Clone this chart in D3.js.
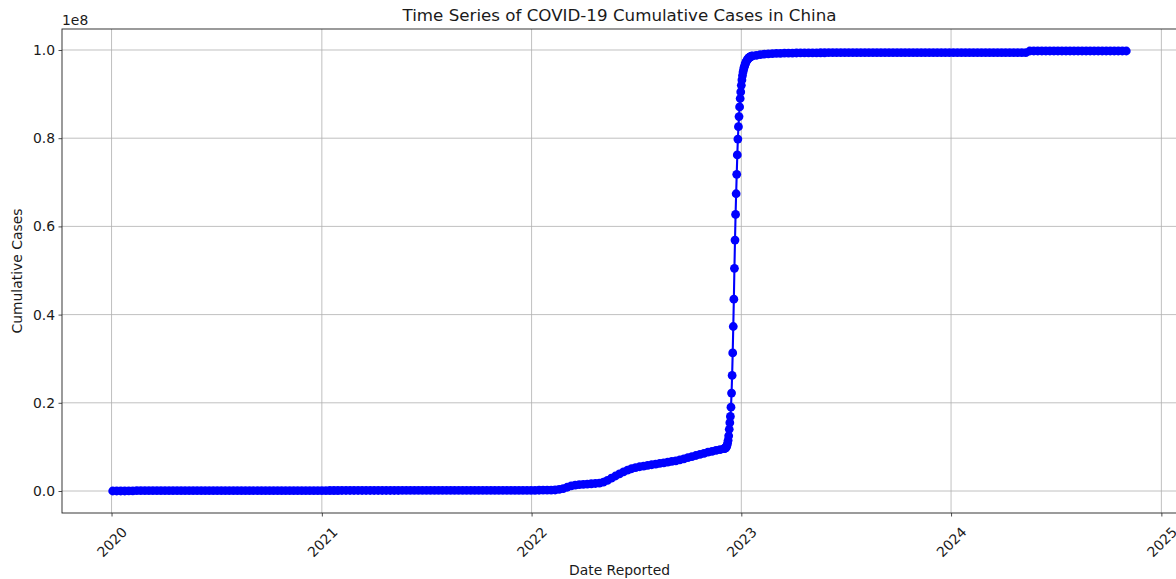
<!DOCTYPE html>
<html>
<head>
<meta charset="utf-8">
<script src="https://cdn.jsdelivr.net/npm/d3@7"></script>
<style>
  html, body { margin: 0; padding: 0; background: #fff; }
  svg { display: block; font-family: "DejaVu Sans", sans-serif; }
</style>
</head>
<body>
<svg id="chart" width="1176" height="579"></svg>
<script>
// Cumulative reported cases, in millions.
// Weekly readings (Fridays) from 2020-01-03 to 2022-12-02.
const weeklyStartA = "2020-01-03";
const cases2020 = [
  0, 0, 0, 0.001, 0.012, 0.034, 0.066, 0.077, 0.079, 0.081,
  0.081, 0.082, 0.083, 0.083, 0.084, 0.085, 0.085, 0.085, 0.085, 0.085,
  0.085, 0.085, 0.086, 0.086, 0.086, 0.087, 0.088, 0.090, 0.091, 0.092,
  0.093, 0.094, 0.094, 0.094, 0.094, 0.095, 0.095, 0.095, 0.095, 0.096,
  0.096, 0.096, 0.097, 0.097, 0.098, 0.098, 0.099, 0.100, 0.101, 0.102,
  0.103, 0.104
];
const cases2021 = [
  0.105, 0.106, 0.108, 0.109, 0.110, 0.111, 0.111, 0.112, 0.112, 0.113,
  0.113, 0.113, 0.114, 0.114, 0.114, 0.115, 0.115, 0.116, 0.117, 0.119,
  0.124, 0.130, 0.133, 0.134, 0.134, 0.135, 0.135, 0.136, 0.137, 0.138,
  0.139, 0.140, 0.141, 0.141, 0.142, 0.142, 0.143, 0.143, 0.144, 0.144,
  0.145, 0.146, 0.146, 0.147, 0.148, 0.149, 0.150, 0.150, 0.151, 0.152,
  0.152, 0.153
];
const cases2022 = [
  0.155, 0.16, 0.17, 0.18, 0.19, 0.20, 0.23, 0.35, 0.55, 0.85,
  1.15, 1.35, 1.45, 1.52, 1.58, 1.64, 1.70, 1.80, 2.0, 2.4,
  2.9, 3.4, 3.9, 4.35, 4.75, 5.05, 5.3, 5.5, 5.65, 5.8,
  5.95, 6.1, 6.25, 6.4, 6.55, 6.7, 6.85, 7.05, 7.3, 7.55,
  7.8, 8.05, 8.3, 8.55, 8.8, 9.0, 9.2, 9.4, 9.6
];
// Daily readings through the winter surge, 2022-12-03 to 2023-01-20.
const dailyStart = "2022-12-03";
const casesSurge = [
  9.65, 9.7, 9.8, 10.0, 10.3, 10.8, 11.5, 12.5, 14.0, 15.5,
  16.9, 19.0, 22.2, 26.2, 31.3, 37.3, 43.5, 50.5, 56.9, 62.7,
  67.4, 71.8, 76.2, 79.8, 82.6, 84.9, 87.1, 89.0, 90.5,
  92.0, 93.2, 94.2, 95.0, 95.6, 96.1, 96.5, 96.9, 97.2, 97.5,
  97.7, 97.9, 98.05, 98.2, 98.3, 98.4, 98.5, 98.55, 98.6, 98.65
];
// Weekly readings from 2023-01-27 to 2024-11-01.
const weeklyStartB = "2023-01-27";
const casesLate = [
  98.80, 98.95, 99.05, 99.12, 99.17, 99.21, 99.24, 99.27, 99.29, 99.31,
  99.32, 99.33, 99.34, 99.35, 99.36, 99.36, 99.37, 99.37, 99.38, 99.38,
  99.38, 99.38, 99.38, 99.38, 99.38, 99.38, 99.38, 99.38, 99.38, 99.38,
  99.39, 99.39, 99.39, 99.39, 99.39, 99.39, 99.39, 99.39, 99.39, 99.39,
  99.39, 99.39, 99.39, 99.39, 99.39, 99.39, 99.39, 99.39, 99.39, 99.39,
  99.39, 99.39, 99.39, 99.39, 99.39, 99.39, 99.39, 99.39, 99.39, 99.39,
  99.39, 99.39, 99.39, 99.39, 99.39, 99.39, 99.39, 99.39,
  99.77, 99.77, 99.77, 99.77, 99.77, 99.77, 99.77, 99.77, 99.77, 99.77,
  99.77, 99.77, 99.77, 99.77, 99.77, 99.77, 99.77, 99.77, 99.77, 99.77,
  99.77, 99.77, 99.77, 99.77, 99.77
];

const xTickLabels = ["2020", "2021", "2022", "2023", "2024", "2025"];
const yTickValues = [0, 0.2e8, 0.4e8, 0.6e8, 0.8e8, 1.0e8];

const titleText = "Time Series of COVID-19 Cumulative Cases in China";
const xLabelText = "Date Reported";
const yLabelText = "Cumulative Cases";

// Assemble {date, cases} records
const parse = d3.utcParse("%Y-%m-%d");
function series(start, stepDays, vals) {
  const t0 = parse(start);
  return vals.map((v, i) => ({ date: d3.utcDay.offset(t0, i * stepDays), cases: v * 1e6 }));
}
const data = [].concat(
  series(weeklyStartA, 7, cases2020.concat(cases2021, cases2022)),
  series(dailyStart, 1, casesSurge),
  series(weeklyStartB, 7, casesLate)
);

// Layout of the plotting area
const plotL = 62, plotR = 1177, plotT = 29, plotB = 513;
const svg = d3.select("#chart");
const textColor = "#1a1a1a";
const tickFont = 13.9, titleFont = 16.7;

// Scales with 5% padding around the data extent
const [xMin, xMax] = d3.extent(data, d => d.date);
const xPad = (xMax - xMin) * 0.05;
const x = d3.scaleUtc()
  .domain([new Date(+xMin - xPad), new Date(+xMax + xPad)])
  .range([plotL, plotR]);

const [yMin, yMax] = d3.extent(data, d => d.cases);
const yPad = (yMax - yMin) * 0.05;
const y = d3.scaleLinear()
  .domain([yMin - yPad, yMax + yPad])
  .range([plotB, plotT]);

const xTickDates = xTickLabels.map(s => parse(s + "-01-01"));

// Grid
const grid = svg.append("g").attr("stroke", "#b0b0b0").attr("stroke-width", 0.8);
grid.selectAll("line.gx").data(xTickDates).join("line")
  .attr("x1", d => x(d)).attr("x2", d => x(d))
  .attr("y1", plotT).attr("y2", plotB);
grid.selectAll("line.gy").data(yTickValues).join("line")
  .attr("x1", plotL).attr("x2", plotR)
  .attr("y1", d => y(d)).attr("y2", d => y(d));

// Series: connecting line then markers
const line = d3.line().x(d => x(d.date)).y(d => y(d.cases));
svg.append("path").datum(data)
  .attr("fill", "none").attr("stroke", "#0000ff")
  .attr("stroke-width", 2.1).attr("stroke-linejoin", "round")
  .attr("d", line);
svg.append("g").attr("fill", "#0000ff")
  .selectAll("circle").data(data).join("circle")
  .attr("cx", d => x(d.date)).attr("cy", d => y(d.cases)).attr("r", 4.4);

// Axes
const xAxis = d3.axisBottom(x).tickValues(xTickDates)
  .tickFormat((d, i) => xTickLabels[i]).tickSize(3.5).tickPadding(3.5);
const gx = svg.append("g").attr("transform", `translate(0,${plotB})`).call(xAxis);
gx.select(".domain").remove();
gx.selectAll(".tick line").attr("stroke", "#222").attr("stroke-width", 0.8);
gx.selectAll(".tick text")
  .attr("font-size", tickFont).attr("fill", textColor)
  .attr("font-family", "DejaVu Sans")
  .attr("text-anchor", "middle").attr("dy", null).attr("y", null)
  .attr("dominant-baseline", "central")
  .attr("transform", "translate(0,29) rotate(-45)");

const yAxis = d3.axisLeft(y).tickValues(yTickValues)
  .tickFormat(d => (d / 1e8).toFixed(1)).tickSize(3.5).tickPadding(3.5);
const gy = svg.append("g").attr("transform", `translate(${plotL},0)`).call(yAxis);
gy.select(".domain").remove();
gy.selectAll(".tick line").attr("stroke", "#222").attr("stroke-width", 0.8);
gy.selectAll(".tick text").attr("font-size", tickFont).attr("fill", textColor)
  .attr("font-family", "DejaVu Sans");

// Frame
svg.append("rect").attr("x", plotL).attr("y", plotT)
  .attr("width", plotR - plotL).attr("height", plotB - plotT)
  .attr("fill", "none").attr("stroke", "#222").attr("stroke-width", 0.9);

// Offset text, title, axis labels
svg.append("text").attr("x", plotL).attr("y", 25)
  .attr("font-size", tickFont).attr("fill", textColor).text("1e8");
svg.append("text").attr("x", (plotL + plotR) / 2).attr("y", 21)
  .attr("text-anchor", "middle").attr("font-size", titleFont).attr("fill", textColor)
  .text(titleText);
svg.append("text").attr("x", (plotL + plotR) / 2).attr("y", 575)
  .attr("text-anchor", "middle").attr("font-size", tickFont).attr("fill", textColor)
  .text(xLabelText);
svg.append("text")
  .attr("transform", `translate(22,${(plotT + plotB) / 2}) rotate(-90)`)
  .attr("text-anchor", "middle").attr("font-size", tickFont).attr("fill", textColor)
  .text(yLabelText);
</script>
</body>
</html>
